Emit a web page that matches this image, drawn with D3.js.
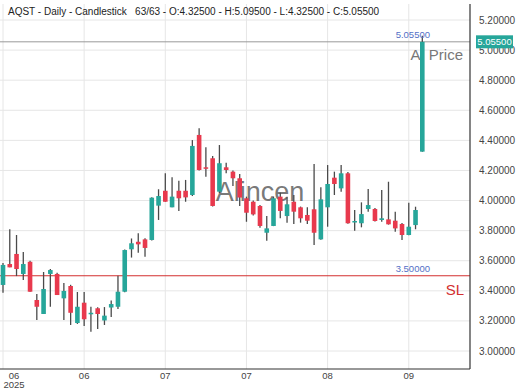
<!DOCTYPE html>
<html>
<head>
<meta charset="utf-8">
<script src="https://cdn.jsdelivr.net/npm/d3@7"></script>
<style>
  html, body { margin: 0; padding: 0; background: #fff; }
  svg { display: block; font-family: "Liberation Sans", Arial, sans-serif; }
</style>
</head>
<body>
<svg id="chart" width="520" height="390"></svg>
<script>
// candle values
const opens  = [3.439,3.578,3.645,3.512,3.593,3.339,3.246,3.512,3.512,3.350,3.432,3.186,3.321,3.246,3.284,3.203,3.289,3.294,3.394,3.676,3.726,3.742,3.738,3.966,4.065,3.955,4.065,4.065,4.037,4.436,4.221,4.281,4.059,4.221,4.192,4.148,4.015,3.992,3.964,3.786,3.831,4.026,3.897,3.992,3.955,3.904,3.942,3.742,3.955,4.152,4.081,4.181,3.855,3.849,3.944,3.944,3.871,3.875,3.866,3.844,3.771,3.837,4.325];
const highs  = [3.585,3.809,3.771,3.658,3.600,3.379,3.525,3.545,3.520,3.452,3.440,3.392,3.392,3.294,3.290,3.292,3.336,3.500,3.675,3.748,3.782,3.750,4.022,4.075,4.181,4.155,4.132,4.137,4.402,4.480,4.354,4.296,4.369,4.252,4.200,4.176,4.026,4.000,3.970,3.897,4.026,4.052,4.026,4.037,3.960,3.955,4.243,4.088,4.236,4.192,4.236,4.190,3.937,3.988,4.077,3.950,4.070,4.125,3.926,3.850,3.986,3.959,5.095];
const lows   = [3.387,3.556,3.498,3.472,3.394,3.206,3.246,3.294,3.372,3.206,3.173,3.180,3.166,3.128,3.146,3.173,3.226,3.279,3.390,3.621,3.653,3.627,3.735,3.871,3.992,3.955,3.930,3.992,4.030,4.200,4.158,3.960,4.050,4.181,4.097,3.964,3.859,3.900,3.820,3.733,3.830,3.882,3.853,3.844,3.853,3.844,3.704,3.740,3.826,4.037,4.059,3.845,3.800,3.822,3.926,3.860,3.859,3.840,3.793,3.738,3.770,3.809,4.325];
const closes = [3.572,3.556,3.545,3.578,3.394,3.294,3.412,3.538,3.372,3.399,3.254,3.294,3.211,3.254,3.246,3.235,3.312,3.394,3.671,3.716,3.709,3.685,4.019,4.030,3.992,4.026,4.015,4.021,4.363,4.203,4.220,3.964,4.248,4.203,4.148,4.020,3.919,3.908,3.831,3.815,4.015,3.931,3.975,3.926,3.882,3.866,3.786,4.008,4.110,4.110,4.181,3.849,3.864,3.910,3.970,3.864,3.882,3.842,3.815,3.771,3.826,3.937,5.055];

const yTicks = [3.0,3.2,3.4,3.6,3.8,4.0,4.2,4.4,4.6,4.8,5.0,5.2];
const xTickIdx = [0,12,24,36,48,60];
const xTickLabels = ["06","06","07","07","08","09"];

const lastPrice = 5.055;
const slPrice = 3.5;
const title = "AQST - Daily - Candlestick   63/63 - O:4.32500 - H:5.09500 - L:4.32500 - C:5.05500";

const UP = "#26a69a", DOWN = "#e8394d";
const plotL = 0, plotR = 470, plotT = 4, plotB = 369;

const svg = d3.select("#chart");
const x = d3.scaleLinear().domain([0, opens.length - 1]).range([3, 422.3]);
const y = d3.scaleLinear().domain([3.0, 5.2]).range([351, 20]);

// grid
svg.append("g").selectAll("line").data(yTicks).join("line")
  .attr("x1", plotL).attr("x2", plotR)
  .attr("y1", d => y(d)).attr("y2", d => y(d))
  .attr("stroke", "#e6e6e6").attr("stroke-width", 1);
svg.append("g").selectAll("line").data(xTickIdx).join("line")
  .attr("x1", d => x(d)).attr("x2", d => x(d))
  .attr("y1", plotT).attr("y2", plotB)
  .attr("stroke", "#e6e6e6").attr("stroke-width", 1);

// watermark
svg.append("text").attr("x", 260).attr("y", 201)
  .attr("text-anchor", "middle").attr("font-size", 27)
  .attr("fill", "#555").attr("fill-opacity", 0.8)
  .text("Alincen");

// SL line
svg.append("line").attr("x1", plotL).attr("x2", plotR)
  .attr("y1", y(slPrice)).attr("y2", y(slPrice))
  .attr("stroke", "#d32f2f").attr("stroke-width", 1.2);
svg.append("text").attr("x", 430).attr("y", y(slPrice) - 3.5)
  .attr("text-anchor", "end").attr("font-size", 9.5).attr("fill", "#5470c6")
  .text(slPrice.toFixed(5));
svg.append("text").attr("x", 464).attr("y", y(slPrice) + 19.5)
  .attr("text-anchor", "end").attr("font-size", 15).attr("fill", "#d32f2f")
  .text("SL");

// last price line
svg.append("line").attr("x1", plotL).attr("x2", plotR)
  .attr("y1", y(lastPrice)).attr("y2", y(lastPrice))
  .attr("stroke", "#999").attr("stroke-width", 1);
svg.append("text").attr("x", 463).attr("y", y(lastPrice) + 18)
  .attr("text-anchor", "end").attr("font-size", 15).attr("fill", "#777")
  .text("AI Price");

// candles
const idx = d3.range(opens.length);
const g = svg.append("g");
g.selectAll("line.wick").data(idx).join("line")
  .attr("class", "wick")
  .attr("x1", i => x(i)).attr("x2", i => x(i))
  .attr("y1", i => y(highs[i])).attr("y2", i => y(lows[i]))
  .attr("stroke", "#4a4a4a").attr("stroke-width", 1.3);
g.selectAll("rect").data(idx).join("rect")
  .attr("x", i => x(i) - 2.3).attr("width", 4.6)
  .attr("y", i => y(Math.max(opens[i], closes[i])))
  .attr("height", i => Math.max(1.5, Math.abs(y(opens[i]) - y(closes[i]))))
  .attr("fill", i => closes[i] >= opens[i] ? UP : DOWN);

svg.append("text").attr("x", 430).attr("y", y(lastPrice) - 3.5)
  .attr("text-anchor", "end").attr("font-size", 9.5).attr("fill", "#5470c6")
  .text(lastPrice.toFixed(5));

// axes frame
svg.append("line").attr("x1", plotR).attr("x2", plotR).attr("y1", plotT).attr("y2", plotB)
  .attr("stroke", "#333").attr("stroke-width", 1.2);
svg.append("line").attr("x1", plotL).attr("x2", plotR).attr("y1", plotB).attr("y2", plotB)
  .attr("stroke", "#333").attr("stroke-width", 1.2);

// y labels
svg.append("g").selectAll("text").data(yTicks).join("text")
  .attr("x", 479).attr("y", d => y(d) + 3.5)
  .attr("font-size", 10).attr("fill", "#444")
  .text(d => d.toFixed(5));

// price tag
const tag = svg.append("g").attr("transform", `translate(476,${y(lastPrice)})`);
tag.append("rect").attr("x", 0).attr("y", -6.5).attr("width", 37).attr("height", 13).attr("fill", UP);
tag.append("text").attr("x", 18.5).attr("y", 3.5).attr("text-anchor", "middle")
  .attr("font-size", 9.5).attr("fill", "#fff").text(lastPrice.toFixed(5));

// x labels
svg.append("g").selectAll("text").data(xTickIdx).join("text")
  .attr("x", (d, k) => x(d) + (k === 0 ? 11 : 0)).attr("y", 378.5)
  .attr("text-anchor", "middle").attr("font-size", 9.5).attr("fill", "#444")
  .text((d, k) => xTickLabels[k]);
svg.append("text").attr("x", x(0) + 11).attr("y", 388)
  .attr("text-anchor", "middle").attr("font-size", 9.5).attr("fill", "#444")
  .text("2025");

// title
svg.append("text").attr("x", 8).attr("y", 15)
  .attr("font-size", 10).attr("fill", "#222")
  .style("white-space", "pre")
  .text(title);
</script>
</body>
</html>
